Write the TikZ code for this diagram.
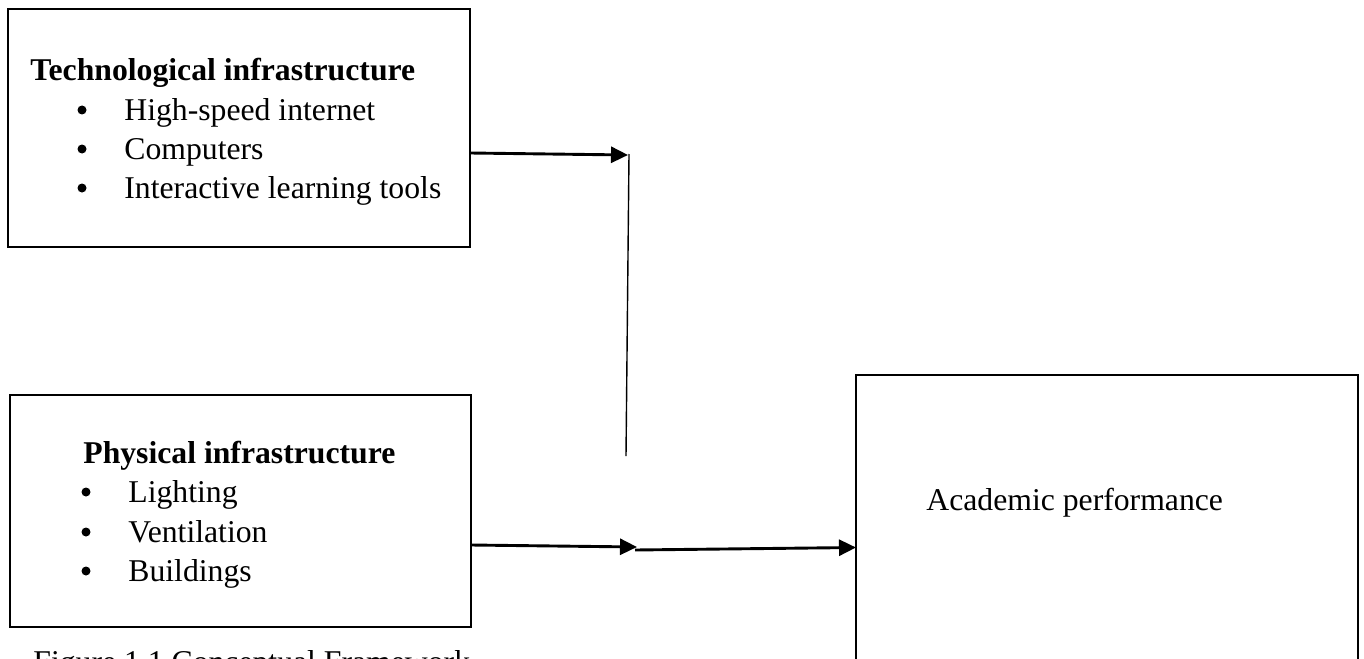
\documentclass[tikz,border=0pt]{standalone}
\usepackage{fontspec}
\setmainfont{Liberation Serif}
\usetikzlibrary{arrows.meta}
\begin{document}
\begin{tikzpicture}[x=0.5pt,y=-0.5pt,
  box/.style={draw,line width=1.45pt,rectangle,inner sep=0pt,outer sep=0pt},
  txt/.style={anchor=base west,inner sep=0pt,font=\fontsize{15.85}{19}\selectfont},
  btxt/.style={txt,font=\fontsize{15.85}{19}\selectfont\bfseries},
  bul/.style={circle,fill=black,inner sep=0pt,minimum size=4.5pt},
  arr/.style={line width=1.45pt,-{Triangle[length=8.5pt,width=8pt]}},
  thin/.style={line width=0.7pt}]
\clip (0,0) rectangle (1364,658);
\fill[white] (0,0) rectangle (1364,658);
% boxes
\node[box,minimum width=231pt,minimum height=119pt] (b1) at (239,128) {};
\node[box,minimum width=230.5pt,minimum height=116pt] (b2) at (240.5,511) {};
\node[box,minimum width=251pt,minimum height=172.5pt] (b3) at (1107,547.5) {};
% texts box 1
\node[btxt] (t1) at (30,81) {Technological infrastructure};
\node[bul] (t1b1) at (82,110) {};
\node[bul] (t1b2) at (82,149) {};
\node[bul] (t1b3) at (82,188) {};
\node[txt] (t1i1) at (124,120) {High-speed internet};
\node[txt] (t1i2) at (124,159) {Computers};
\node[txt] (t1i3) at (124,198) {Interactive learning tools};
% texts box 2
\node[btxt] (t2) at (83,463) {Physical infrastructure};
\node[bul] (t2b1) at (86,492) {};
\node[bul] (t2b2) at (86,532) {};
\node[bul] (t2b3) at (86,571) {};
\node[txt] (t2i1) at (128,502) {Lighting};
\node[txt] (t2i2) at (128,542) {Ventilation};
\node[txt] (t2i3) at (128,581) {Buildings};
% box 3 text
\node[txt] (t3) at (926,510) {Academic performance};
% caption
\node[txt] (cap) at (33,672) {Figure 1.1 Conceptual Framework};
% connectors
\coordinate (j1) at (628,155);
\coordinate (v1) at (629,154);
\coordinate (v2) at (626,456);
\coordinate (j2) at (637,547);
\coordinate (j3) at (635,550);
\draw[arr] ([yshift=-12.5pt]b1.east) -- (j1);
\draw[thin] (v1) -- (v2);
\draw[arr] ([yshift=-17pt]b2.east) -- (j2);
\draw[arr] (j3) -- (b3.west);
\end{tikzpicture}
\end{document}
